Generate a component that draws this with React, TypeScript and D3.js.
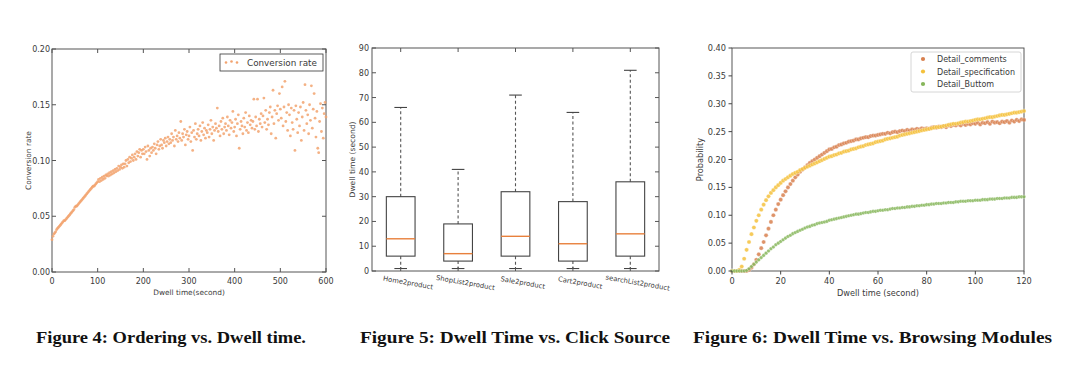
import React from "react";
import * as d3 from "d3";

// ---------- Figure 4 data: conversion rate sampled every 2 seconds (0..600) ----------
const conversionRate: number[] = [
  0.029, 0.032, 0.034, 0.035, 0.036, 0.038, 0.039, 0.040, 0.041, 0.042,
  0.043, 0.044, 0.045, 0.046, 0.046, 0.047, 0.048, 0.049, 0.050, 0.051,
  0.052, 0.053, 0.054, 0.055, 0.056, 0.058, 0.059, 0.059, 0.060, 0.061,
  0.062, 0.063, 0.064, 0.065, 0.066, 0.067, 0.068, 0.069, 0.070, 0.071,
  0.072, 0.073, 0.074, 0.075, 0.076, 0.077, 0.077, 0.078, 0.079, 0.080,
  0.081, 0.083, 0.081, 0.084, 0.082, 0.085, 0.083, 0.086, 0.084, 0.087,
  0.086, 0.088, 0.086, 0.089, 0.087, 0.090, 0.088, 0.091, 0.089, 0.092,
  0.090, 0.093, 0.091, 0.095, 0.092, 0.094, 0.096, 0.093, 0.097, 0.094,
  0.097, 0.100, 0.095, 0.101, 0.098, 0.103, 0.099, 0.102, 0.105, 0.100,
  0.103, 0.106, 0.101, 0.108, 0.104, 0.107, 0.110, 0.103, 0.109, 0.106,
  0.110, 0.106, 0.112, 0.108, 0.101, 0.113, 0.109, 0.104, 0.111, 0.107,
  0.112, 0.109, 0.115, 0.111, 0.106, 0.114, 0.117, 0.110, 0.113, 0.119,
  0.114, 0.111, 0.118, 0.116, 0.120, 0.113, 0.117, 0.121, 0.115, 0.119,
  0.116, 0.124, 0.118, 0.121, 0.113, 0.127, 0.119, 0.122, 0.117, 0.125,
  0.120, 0.135, 0.118, 0.124, 0.121, 0.128, 0.114, 0.123, 0.126, 0.119,
  0.122, 0.130, 0.117, 0.125, 0.109, 0.127, 0.121, 0.133, 0.119, 0.124,
  0.128, 0.122, 0.131, 0.118, 0.126, 0.134, 0.123, 0.129, 0.120, 0.127,
  0.125, 0.132, 0.121, 0.128, 0.136, 0.124, 0.130, 0.118, 0.127, 0.133,
  0.129, 0.147, 0.126, 0.131, 0.122, 0.135, 0.128, 0.138, 0.124, 0.130,
  0.133, 0.127, 0.139, 0.131, 0.123, 0.136, 0.129, 0.134, 0.144, 0.126,
  0.130, 0.137, 0.122, 0.133, 0.141, 0.111, 0.128, 0.135, 0.131, 0.124,
  0.138, 0.130, 0.143, 0.127, 0.134, 0.125, 0.140, 0.132, 0.136, 0.129,
  0.135, 0.155, 0.128, 0.139, 0.131, 0.155, 0.126, 0.137, 0.133, 0.142,
  0.130, 0.140, 0.156, 0.134, 0.145, 0.128, 0.137, 0.132, 0.143, 0.148,
  0.124, 0.139, 0.163, 0.133, 0.145, 0.120, 0.142, 0.149, 0.136, 0.160,
  0.146, 0.138, 0.166, 0.131, 0.148, 0.171, 0.135, 0.143, 0.127, 0.150,
  0.141, 0.122, 0.147, 0.134, 0.128, 0.145, 0.109, 0.149, 0.137, 0.125,
  0.143, 0.131, 0.148, 0.118, 0.139, 0.152, 0.127, 0.168, 0.145, 0.133,
  0.141, 0.124, 0.150, 0.136, 0.167, 0.129, 0.146, 0.160, 0.138, 0.121,
  0.144, 0.111, 0.107, 0.135, 0.151, 0.126, 0.147, 0.120, 0.142, 0.152,
  0.139,
];
const conversionSeconds: number[] = d3.range(0, 601, 2);
const fig4XTicks = [0, 100, 200, 300, 400, 500, 600];
const fig4YTicks = [0, 0.05, 0.1, 0.15, 0.2];

// ---------- Figure 5 data: box plot per click source ----------
const sources = ["Home2product", "ShopList2product", "Sale2product", "Cart2product", "searchList2product"];
const whiskerLow = [1, 1, 1, 1, 1];
const quartile1 = [6, 4, 6, 4, 6];
const medians = [13, 7, 14, 11, 15];
const quartile3 = [30, 19, 32, 28, 36];
const whiskerHigh = [66, 41, 71, 64, 81];
const fig5YTicks = [0, 10, 20, 30, 40, 50, 60, 70, 80, 90];

// ---------- Figure 6 data: probability per second (0..120) ----------
const moduleNames = ["Detail_comments", "Detail_specification", "Detail_Buttom"];
const detailComments: number[] = [
  0, 0, 0, 0, 0, 0, 0, 0.002, 0.006, 0.012,
  0.020, 0.030, 0.041, 0.052, 0.064, 0.076, 0.088, 0.100, 0.110, 0.120,
  0.128, 0.136, 0.143, 0.150, 0.156, 0.162, 0.168, 0.173, 0.178, 0.182,
  0.186, 0.190, 0.194, 0.197, 0.200, 0.203, 0.206, 0.209, 0.212, 0.215,
  0.218, 0.219, 0.222, 0.223, 0.226, 0.227, 0.229, 0.230, 0.232, 0.233,
  0.234, 0.236, 0.236, 0.238, 0.239, 0.240, 0.240, 0.242, 0.243, 0.243,
  0.244, 0.245, 0.246, 0.246, 0.248, 0.247, 0.249, 0.250, 0.249, 0.251,
  0.252, 0.251, 0.253, 0.252, 0.254, 0.253, 0.255, 0.254, 0.256, 0.255,
  0.256, 0.255, 0.257, 0.258, 0.257, 0.259, 0.258, 0.260, 0.258, 0.261,
  0.260, 0.262, 0.261, 0.263, 0.261, 0.264, 0.262, 0.264, 0.263, 0.265,
  0.264, 0.266, 0.263, 0.266, 0.265, 0.267, 0.264, 0.268, 0.266, 0.267,
  0.265, 0.268, 0.267, 0.269, 0.266, 0.270, 0.268, 0.271, 0.269, 0.272,
  0.271,
];
const detailSpecification: number[] = [
  0, 0, 0, 0.002, 0.008, 0.022, 0.038, 0.052, 0.066, 0.078,
  0.090, 0.100, 0.110, 0.119, 0.127, 0.134, 0.140, 0.145, 0.150, 0.154,
  0.158, 0.162, 0.165, 0.168, 0.171, 0.174, 0.176, 0.178, 0.181, 0.183,
  0.185, 0.187, 0.189, 0.191, 0.193, 0.195, 0.197, 0.199, 0.201, 0.203,
  0.205, 0.206, 0.208, 0.209, 0.211, 0.212, 0.214, 0.215, 0.216, 0.218,
  0.219, 0.220, 0.222, 0.223, 0.224, 0.226, 0.227, 0.228, 0.229, 0.231,
  0.232, 0.233, 0.234, 0.236, 0.237, 0.238, 0.239, 0.240, 0.241, 0.243,
  0.244, 0.245, 0.246, 0.247, 0.248, 0.249, 0.250, 0.251, 0.252, 0.253,
  0.254, 0.255, 0.256, 0.257, 0.258, 0.258, 0.259, 0.260, 0.261, 0.262,
  0.263, 0.264, 0.264, 0.265, 0.266, 0.267, 0.268, 0.268, 0.269, 0.270,
  0.271, 0.272, 0.272, 0.273, 0.274, 0.275, 0.276, 0.276, 0.277, 0.278,
  0.279, 0.280, 0.280, 0.281, 0.282, 0.283, 0.284, 0.284, 0.285, 0.286,
  0.287,
];
const detailButtom: number[] = [
  0, 0, 0, 0, 0, 0, 0.001, 0.004, 0.008, 0.012,
  0.016, 0.020, 0.024, 0.028, 0.032, 0.036, 0.040, 0.043, 0.047, 0.050,
  0.053, 0.056, 0.059, 0.062, 0.064, 0.067, 0.069, 0.071, 0.073, 0.075,
  0.077, 0.079, 0.080, 0.082, 0.083, 0.085, 0.086, 0.087, 0.088, 0.089,
  0.091, 0.092, 0.093, 0.094, 0.095, 0.096, 0.097, 0.098, 0.099, 0.100,
  0.101, 0.102, 0.102, 0.103, 0.104, 0.105, 0.105, 0.106, 0.107, 0.107,
  0.108, 0.109, 0.109, 0.110, 0.110, 0.111, 0.112, 0.112, 0.113, 0.113,
  0.114, 0.114, 0.115, 0.115, 0.116, 0.116, 0.117, 0.117, 0.118, 0.118,
  0.119, 0.119, 0.120, 0.120, 0.121, 0.121, 0.121, 0.122, 0.122, 0.123,
  0.123, 0.123, 0.124, 0.124, 0.125, 0.125, 0.125, 0.126, 0.126, 0.126,
  0.127, 0.127, 0.127, 0.128, 0.128, 0.128, 0.129, 0.129, 0.129, 0.130,
  0.130, 0.130, 0.131, 0.131, 0.131, 0.132, 0.132, 0.132, 0.133, 0.133,
  0.133,
];
const fig6Seconds: number[] = d3.range(0, 121, 1);
const fig6XTicks = [0, 20, 40, 60, 80, 100, 120];
const fig6YTicks = [0, 0.05, 0.1, 0.15, 0.2, 0.25, 0.3, 0.35, 0.4];

const captions = [
  "Figure 4: Ordering vs. Dwell time.",
  "Figure 5: Dwell Time vs. Click Source",
  "Figure 6: Dwell Time vs. Browsing Modules",
];

const SANS = "DejaVu Sans, sans-serif";
const TXT = "#3a3a3a";
const AX = "#555";

export default function App() {
  // ---------- Figure 4 ----------
  const x4 = d3.scaleLinear().domain([0, 600]).range([52, 326]);
  const y4 = d3.scaleLinear().domain([0, 0.2]).range([272, 49]);
  const fig4 = (
    <g>
      <rect x={x4(0)} y={y4(0.2)} width={x4(600) - x4(0)} height={y4(0) - y4(0.2)} fill="#fff" stroke={AX} strokeWidth={1} />
      {conversionRate.map((v, i) => (
        <circle key={i} cx={x4(conversionSeconds[i])} cy={y4(v)} r={1.4} fill="#f2a36f" fillOpacity={0.85} />
      ))}
      {fig4XTicks.map((t) => (
        <g key={t}>
          <line x1={x4(t)} x2={x4(t)} y1={y4(0)} y2={y4(0) - 4} stroke={AX} />
          <line x1={x4(t)} x2={x4(t)} y1={y4(0.2)} y2={y4(0.2) + 4} stroke={AX} />
          <text x={x4(t)} y={284} textAnchor="middle" fontSize={8} fontFamily={SANS} fill={TXT}>{t}</text>
        </g>
      ))}
      {fig4YTicks.map((t) => (
        <g key={t}>
          <line x1={x4(0)} x2={x4(0) + 4} y1={y4(t)} y2={y4(t)} stroke={AX} />
          <line x1={x4(600)} x2={x4(600) - 4} y1={y4(t)} y2={y4(t)} stroke={AX} />
          <text x={x4(0) - 2} y={y4(t) + 3} textAnchor="end" fontSize={8} fontFamily={SANS} fill={TXT}>{t.toFixed(2)}</text>
        </g>
      ))}
      <text x={(x4(0) + x4(600)) / 2} y={295} textAnchor="middle" fontSize={7.4} fontFamily={SANS} fill={TXT}>Dwell time(second)</text>
      <text transform={`translate(31,${(y4(0) + y4(0.2)) / 2}) rotate(-90)`} textAnchor="middle" fontSize={7.4} fontFamily={SANS} fill={TXT}>Conversion rate</text>
      <rect x={220} y={54} width={103} height={17} fill="#fff" stroke="#333" strokeWidth={0.8} />
      {[226, 231.5, 237].map((cx, i) => (
        <circle key={i} cx={cx} cy={i === 1 ? 61.5 : 62.5} r={1.3} fill="#f2a36f" />
      ))}
      <text x={247} y={65.5} fontSize={8.8} fontFamily={SANS} fill={TXT}>Conversion rate</text>
    </g>
  );

  // ---------- Figure 5 ----------
  const x5 = d3.scaleBand().domain(sources).range([372, 659]).padding(0);
  const y5 = d3.scaleLinear().domain([0, 90]).range([271, 48]);
  const bw = x5.bandwidth();
  const fig5 = (
    <g>
      <rect x={372} y={y5(90)} width={659 - 372} height={y5(0) - y5(90)} fill="#fff" stroke={AX} strokeWidth={1} />
      {sources.map((s, i) => {
        const cx = (x5(s) as number) + bw / 2;
        const half = bw * 0.25;
        const cap = bw * 0.11;
        return (
          <g key={s}>
            <line x1={cx} x2={cx} y1={y5(quartile3[i])} y2={y5(whiskerHigh[i])} stroke="#555" strokeDasharray="3,2.5" strokeWidth={1.1} />
            <line x1={cx} x2={cx} y1={y5(quartile1[i])} y2={y5(whiskerLow[i])} stroke="#555" strokeDasharray="3,2.5" strokeWidth={1.1} />
            <line x1={cx - cap} x2={cx + cap} y1={y5(whiskerHigh[i])} y2={y5(whiskerHigh[i])} stroke="#444" strokeWidth={1.1} />
            <line x1={cx - cap} x2={cx + cap} y1={y5(whiskerLow[i])} y2={y5(whiskerLow[i])} stroke="#444" strokeWidth={1.1} />
            <rect x={cx - half} y={y5(quartile3[i])} width={half * 2} height={y5(quartile1[i]) - y5(quartile3[i])} fill="none" stroke="#444" strokeWidth={1.1} />
            <line x1={cx - half} x2={cx + half} y1={y5(medians[i])} y2={y5(medians[i])} stroke="#e8803c" strokeWidth={1.4} />
            <line x1={cx} x2={cx} y1={y5(0)} y2={y5(0) - 4} stroke={AX} />
            <line x1={cx} x2={cx} y1={y5(90)} y2={y5(90) + 4} stroke={AX} />
            <text transform={`translate(${cx + 7},${285}) rotate(10)`} textAnchor="middle" fontSize={6.8} fontFamily={SANS} fill={TXT}>{s}</text>
          </g>
        );
      })}
      {fig5YTicks.map((t) => (
        <g key={t}>
          <line x1={372} x2={376} y1={y5(t)} y2={y5(t)} stroke={AX} />
          <line x1={659} x2={655} y1={y5(t)} y2={y5(t)} stroke={AX} />
          <text x={369} y={y5(t) + 3} textAnchor="end" fontSize={8} fontFamily={SANS} fill={TXT}>{t}</text>
        </g>
      ))}
      <text transform={`translate(355,${(y5(0) + y5(90)) / 2}) rotate(-90)`} textAnchor="middle" fontSize={7.6} fontFamily={SANS} fill={TXT}>Dwell time (second)</text>
    </g>
  );

  // ---------- Figure 6 ----------
  const x6 = d3.scaleLinear().domain([0, 120]).range([732, 1024]);
  const y6 = d3.scaleLinear().domain([0, 0.4]).range([271, 48]);
  const series = [
    { name: moduleNames[0], values: detailComments, color: "#d8804f", r: 2.1 },
    { name: moduleNames[1], values: detailSpecification, color: "#f4c13c", r: 2.1 },
    { name: moduleNames[2], values: detailButtom, color: "#86b65a", r: 1.8 },
  ];
  const fig6 = (
    <g>
      <rect x={732} y={48} width={1024 - 732} height={271 - 48} fill="#fff" stroke="#444" strokeWidth={0.9} />
      {series.map((s) => (
        <g key={s.name}>
          {s.values.map((v, i) => (
            <circle key={i} cx={x6(fig6Seconds[i])} cy={y6(v)} r={s.r} fill={s.color} fillOpacity={0.85} stroke="#fff" strokeWidth={0.3} />
          ))}
        </g>
      ))}
      {fig6XTicks.map((t) => (
        <g key={t}>
          <line x1={x6(t)} x2={x6(t)} y1={271} y2={274.5} stroke="#444" />
          <text x={x6(t)} y={284} textAnchor="middle" fontSize={8.2} fontFamily={SANS} fill={TXT}>{t}</text>
        </g>
      ))}
      {fig6YTicks.map((t) => (
        <g key={t}>
          <line x1={728.5} x2={732} y1={y6(t)} y2={y6(t)} stroke="#444" />
          <text x={726} y={y6(t) + 3} textAnchor="end" fontSize={8.2} fontFamily={SANS} fill={TXT}>{t.toFixed(2)}</text>
        </g>
      ))}
      <text x={(732 + 1024) / 2} y={296} textAnchor="middle" fontSize={8.2} fontFamily={SANS} fill={TXT}>Dwell time (second)</text>
      <text transform={`translate(703,${(48 + 271) / 2}) rotate(-90)`} textAnchor="middle" fontSize={8.2} fontFamily={SANS} fill={TXT}>Probability</text>
      <rect x={911} y={52} width={110} height={40} rx={2} fill="#fff" fillOpacity={0.85} stroke="#ccc" strokeWidth={0.8} />
      {series.map((s, i) => (
        <g key={s.name}>
          <circle cx={923} cy={59 + i * 12.5} r={2.1} fill={s.color} />
          <text x={937} y={62 + i * 12.5} fontSize={8} fontFamily={SANS} fill={TXT}>{s.name}</text>
        </g>
      ))}
    </g>
  );

  const capX = [36, 360, 693];
  const capW = [270, 310, 359];

  return (
    <svg width={1080} height={380} style={{ position: "absolute", left: 0, top: 0, background: "#fff" }}>
      <rect x={0} y={0} width={1080} height={380} fill="#fff" />
      {fig4}
      {fig5}
      {fig6}
      {captions.map((c, i) => (
        <text key={c} x={capX[i]} y={343} fontSize={16} fontWeight="bold" fontFamily="Liberation Serif, serif" fill="#111" textLength={capW[i]} lengthAdjust="spacingAndGlyphs">{c}</text>
      ))}
    </svg>
  );
}
